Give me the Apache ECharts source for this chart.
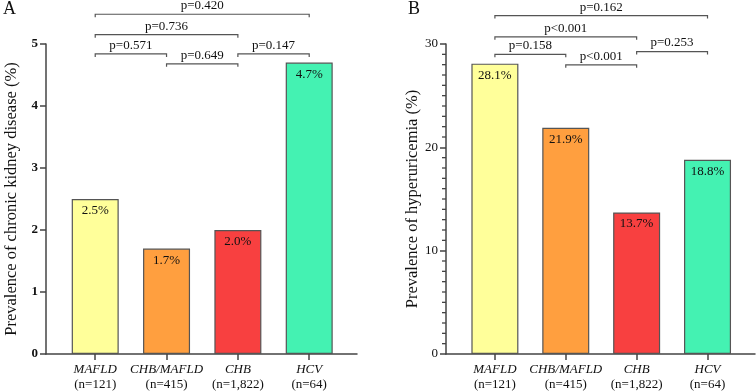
<!DOCTYPE html>
<html>
<head>
<meta charset="utf-8">
<script src="https://cdn.jsdelivr.net/npm/echarts@6/dist/echarts.min.js"></script>
<style>
  html, body { margin: 0; padding: 0; background: #fff; }
  #chart { width: 756px; height: 392px; }
</style>
</head>
<body>
<div id="chart"></div>
<script>
// categories shared by both panels
const groups = ['MAFLD', 'CHB/MAFLD', 'CHB', 'HCV'];
const groupN = ['(n=121)', '(n=415)', '(n=1,822)', '(n=64)'];
const barColors = ['#FFFF9A', '#FF9F3F', '#F84040', '#44F2B2'];
const xRange = [-0.69, 3.67];

// panel A: chronic kidney disease
const ckdValues = [2.5, 1.7, 2.0, 4.7];
const ckdTicks = [0, 1, 2, 3, 4, 5];
// brackets: [from group, to group, height in axis units]
const ckdBrackets = [[0, 3, 5.48], [0, 2, 5.15], [0, 1, 4.84], [1, 2, 4.68], [2, 3, 4.84]];
const ckdPLabels = ['p=0.420', 'p=0.736', 'p=0.571', 'p=0.649', 'p=0.147'];

// panel B: hyperuricemia
const huaValues = [28.1, 21.9, 13.7, 18.8];
const huaTicks = [0, 10, 20, 30];
const huaMinorTicks = [1, 2, 3, 4, 5, 6, 7, 8, 9, 11, 12, 13, 14, 15, 16, 17, 18, 19,
  21, 22, 23, 24, 25, 26, 27, 28, 29];
const huaBrackets = [[0, 3, 32.75], [0, 2, 30.69], [0, 1, 29.0], [1, 2, 27.98], [2, 3, 29.27]];
const huaPLabels = ['p=0.162', 'p<0.001', 'p=0.158', 'p<0.001', 'p=0.253'];

const FONT = "'Liberation Serif', 'Times New Roman', serif";
const AXIS = '#444';
const TEXT = '#111';

const chart = echarts.init(document.getElementById('chart'));

function xAxisFor(gridIndex) {
  return {
    gridIndex,
    type: 'value',
    min: xRange[0],
    max: xRange[1],
    splitLine: { show: false },
    axisLine: { show: true, onZero: false, lineStyle: { color: AXIS, width: 1.5 } },
    axisTick: { show: true, length: 6, customValues: [0, 1, 2, 3], lineStyle: { color: AXIS, width: 1.5 } },
    axisLabel: {
      customValues: [0, 1, 2, 3],
      margin: 8,
      formatter: v => '{i|' + groups[Math.round(v)] + '}\n{n|' + groupN[Math.round(v)] + '}',
      rich: {
        i: { fontFamily: FONT, fontSize: 13, fontStyle: 'italic', color: TEXT, lineHeight: 15 },
        n: { fontFamily: FONT, fontSize: 13, color: TEXT, lineHeight: 15 }
      }
    }
  };
}

function yAxisFor(gridIndex, ticks, name, bold, nameGap) {
  return {
    gridIndex,
    type: 'value',
    position: 'left',
    min: ticks[0],
    max: ticks[ticks.length - 1],
    interval: ticks[1] - ticks[0],
    name,
    nameLocation: 'middle',
    nameGap,
    nameTextStyle: { fontFamily: FONT, fontSize: 16.5, color: TEXT },
    splitLine: { show: false },
    axisLine: { show: true, onZero: false, lineStyle: { color: AXIS, width: 1.5 } },
    axisTick: { show: true, length: 6, lineStyle: { color: AXIS, width: 1.5 } },
    axisLabel: {
      margin: 8,
      fontFamily: FONT,
      fontSize: 13,
      fontWeight: bold ? 'bold' : 'normal',
      color: TEXT
    }
  };
}

function barSeries(idx, values) {
  return {
    type: 'bar',
    xAxisIndex: idx,
    yAxisIndex: idx,
    barWidth: 47,
    data: values.map((v, i) => ({
      value: [i, v],
      itemStyle: { color: barColors[i] }
    })),
    itemStyle: { borderColor: '#555', borderWidth: 1.2 },
    label: {
      show: true,
      position: 'insideTop',
      distance: 5,
      fontFamily: FONT,
      fontSize: 13,
      color: TEXT,
      formatter: p => p.value[1].toFixed(1) + '%'
    }
  };
}

function bracketSeries(idx, brackets, labels) {
  return {
    type: 'custom',
    xAxisIndex: idx,
    yAxisIndex: idx,
    clip: false,
    silent: true,
    encode: { x: [0, 1], y: 2 },
    data: brackets,
    renderItem: (params, api) => {
      const a = api.coord([api.value(0), api.value(2)]);
      const b = api.coord([api.value(1), api.value(2)]);
      const drop = 3;
      return {
        type: 'group',
        children: [
          {
            type: 'polyline',
            shape: { points: [[a[0], a[1] + drop], [a[0], a[1]], [b[0], b[1]], [b[0], b[1] + drop]] },
            style: { stroke: '#555', lineWidth: 1.2, fill: null }
          },
          {
            type: 'text',
            x: (a[0] + b[0]) / 2,
            y: a[1] - 2,
            style: {
              text: labels[params.dataIndex],
              fontFamily: FONT,
              fontSize: 13,
              fill: TEXT,
              align: 'center',
              verticalAlign: 'bottom'
            }
          }
        ]
      };
    }
  };
}

// short minor ticks on the left of a y axis
function minorTickSeries(idx, values) {
  return {
    type: 'custom',
    xAxisIndex: idx,
    yAxisIndex: idx,
    clip: false,
    silent: true,
    encode: { x: 0, y: 1 },
    data: values.map(v => [xRange[0], v]),
    renderItem: (params, api) => {
      const p = api.coord([api.value(0), api.value(1)]);
      return {
        type: 'line',
        shape: { x1: p[0] - 4, y1: p[1], x2: p[0], y2: p[1] },
        style: { stroke: AXIS, lineWidth: 1.3 }
      };
    }
  };
}

chart.setOption({
  animation: false,
  title: [
    { text: 'A', left: 3, top: 0, padding: 0, textStyle: { fontFamily: FONT, fontSize: 18, fontWeight: 'normal', color: TEXT } },
    { text: 'B', left: 408, top: 0, padding: 0, textStyle: { fontFamily: FONT, fontSize: 18, fontWeight: 'normal', color: TEXT } }
  ],
  grid: [
    { left: 46, top: 44, width: 311, height: 310 },
    { left: 446, top: 44, width: 309, height: 310 }
  ],
  xAxis: [xAxisFor(0), xAxisFor(1)],
  yAxis: [
    yAxisFor(0, ckdTicks, 'Prevalence of chronic kidney disease (%)', true, 26),
    yAxisFor(1, huaTicks, 'Prevalence of hyperuricemia (%)', false, 25)
  ],
  series: [
    barSeries(0, ckdValues),
    barSeries(1, huaValues),
    bracketSeries(0, ckdBrackets, ckdPLabels),
    bracketSeries(1, huaBrackets, huaPLabels),
    minorTickSeries(1, huaMinorTicks)
  ]
});
</script>
</body>
</html>
